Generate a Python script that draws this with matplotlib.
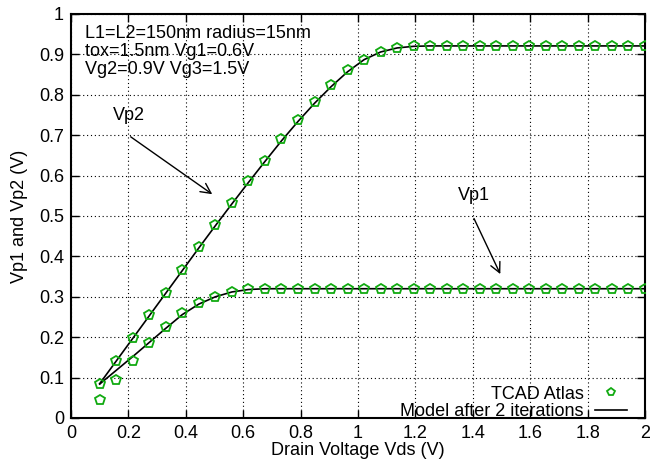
import numpy as np
import matplotlib
matplotlib.use("Agg")
from matplotlib import pyplot as plt
from matplotlib.ticker import MultipleLocator, FormatStrFormatter

# drain voltage sweep (34 points from 0.1 V to 2 V)
vds = np.linspace(0.1, 2.0, 34)

# TCAD Atlas points
tcad_vp2 = [0.085, 0.141, 0.199, 0.255, 0.310, 0.367, 0.423, 0.478, 0.532, 0.586,
            0.637, 0.690, 0.738, 0.783, 0.824, 0.862, 0.886, 0.905, 0.917, 0.922,
            0.922, 0.922, 0.922, 0.922, 0.922, 0.922, 0.922, 0.922, 0.922, 0.922,
            0.922, 0.922, 0.922, 0.922]
tcad_vp1 = [0.045, 0.094, 0.141, 0.185, 0.225, 0.259, 0.284, 0.300, 0.313, 0.319,
            0.320, 0.320, 0.320, 0.320, 0.320, 0.320, 0.320, 0.320, 0.320, 0.320,
            0.320, 0.320, 0.320, 0.320, 0.320, 0.320, 0.320, 0.320, 0.320, 0.320,
            0.320, 0.320, 0.320, 0.320]

# model after 2 iterations
model_vp2 = [0.085, 0.141, 0.197, 0.253, 0.309, 0.365, 0.421, 0.476, 0.530, 0.583,
             0.635, 0.686, 0.734, 0.779, 0.820, 0.857, 0.887, 0.906, 0.916, 0.920,
             0.921, 0.921, 0.921, 0.921, 0.921, 0.921, 0.921, 0.921, 0.921, 0.921,
             0.921, 0.921, 0.921, 0.921]
model_vp1 = [0.084, 0.118, 0.152, 0.187, 0.222, 0.256, 0.282, 0.300, 0.312, 0.318,
             0.320, 0.320, 0.320, 0.320, 0.320, 0.320, 0.320, 0.320, 0.320, 0.320,
             0.320, 0.320, 0.320, 0.320, 0.320, 0.320, 0.320, 0.320, 0.320, 0.320,
             0.320, 0.320, 0.320, 0.320]

params_text = ["L1=L2=150nm radius=15nm", "tox=1.5nm Vg1=0.6V", "Vg2=0.9V Vg3=1.5V"]

plt.rcParams['font.family'] = ['Liberation Sans', 'DejaVu Sans']
plt.rcParams['font.size'] = 13

fig = plt.figure(figsize=(6.5, 4.63), dpi=100)
ax = fig.add_axes([71 / 650, 1 - 418 / 463, (645 - 71) / 650, (418 - 14) / 463])

green = '#11aa11'
ax.plot(vds, tcad_vp2, linestyle='none', marker='p', markersize=7.5,
        markerfacecolor='none', markeredgecolor=green, markeredgewidth=1.3,
        label='TCAD Atlas', zorder=3)
ax.plot(vds, tcad_vp1, linestyle='none', marker='p', markersize=7.5,
        markerfacecolor='none', markeredgecolor=green, markeredgewidth=1.3, zorder=3)
ax.plot(vds, model_vp2, color='black', lw=1.2, label='Model after 2 iterations', zorder=2)
ax.plot(vds, model_vp1, color='black', lw=1.2, zorder=2)

ax.set_xlim(0, 2)
ax.set_ylim(0, 1)
ax.xaxis.set_major_locator(MultipleLocator(0.2))
ax.yaxis.set_major_locator(MultipleLocator(0.1))
ax.xaxis.set_major_formatter(FormatStrFormatter('%g'))
ax.yaxis.set_major_formatter(FormatStrFormatter('%g'))
ax.tick_params(direction='in', length=6, width=1, top=True, right=True, pad=5)
ax.grid(True, color='black', linestyle=(0, (1, 2.5)), linewidth=0.8)
for s in ax.spines.values():
    s.set_linewidth(1.5)

ax.set_xlabel('Drain Voltage Vds (V)', labelpad=0)
ax.set_ylabel('Vp1 and Vp2 (V)', labelpad=8)

for i, line in enumerate(params_text):
    ax.text(0.05, 0.952 - 0.045 * i, line, va='center', ha='left')

ax.text(0.147, 0.75, 'Vp2', va='center', ha='left')
ax.annotate('', xy=(0.5, 0.55), xytext=(0.2, 0.7),
            arrowprops=dict(arrowstyle='->', color='black', lw=1, mutation_scale=18))
ax.text(1.347, 0.55, 'Vp1', va='center', ha='left')
ax.annotate('', xy=(1.5, 0.35), xytext=(1.4, 0.5),
            arrowprops=dict(arrowstyle='->', color='black', lw=1, mutation_scale=18))

leg = ax.legend(loc='lower right', bbox_to_anchor=(0.975, -0.015), frameon=False,
                markerfirst=False, handlelength=1.8, labelspacing=0.05,
                handletextpad=0.6, borderaxespad=0, borderpad=0.2)
for t in leg.get_texts():
    t.set_ha('right')
leg.legend_handles[0].set_markersize(6)

fig.savefig('out.png', dpi=100)
